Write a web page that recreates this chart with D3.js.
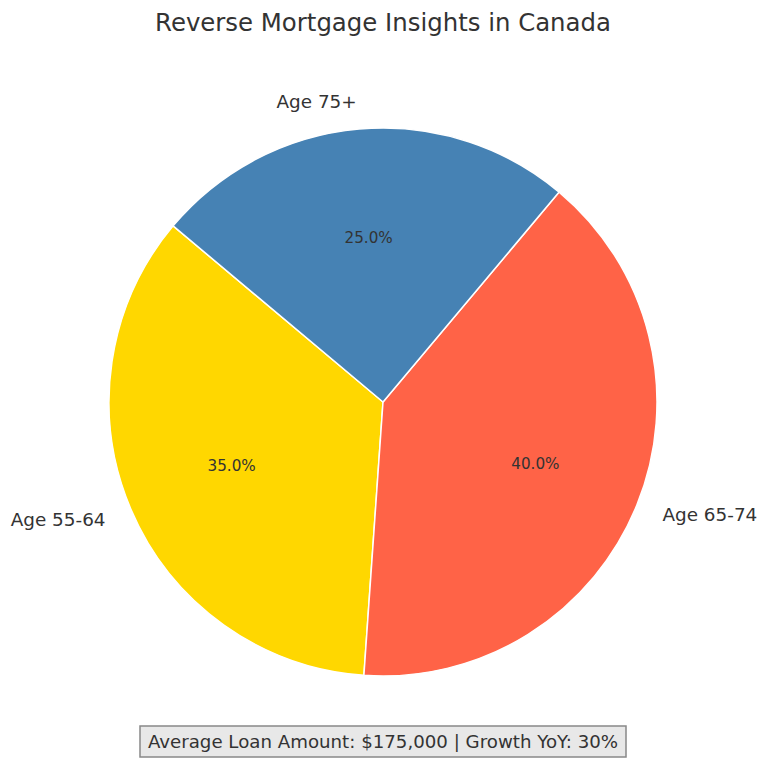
<!DOCTYPE html>
<html><head><meta charset="utf-8">
<script src="https://cdn.jsdelivr.net/npm/d3@7"></script>
<style>body{margin:0;background:#fff;} text{font-family:"DejaVu Sans",sans-serif;}</style>
</head><body>
<svg id="c" width="768" height="762"></svg>
<script>
const categories = ["Age 55-64", "Age 65-74", "Age 75+"];
const values = [35, 40, 25];
const colors = ["#FFD700", "#FF6347", "#4682B4"];
const title = "Reverse Mortgage Insights in Canada";
const note = "Average Loan Amount: $175,000 | Growth YoY: 30%";

const svg = d3.select("#c");
const cx = 383, cy = 402, r = 274;
const startMath = 140; // degrees, counterclockwise from 3 o'clock
const toD3 = deg => (90 - deg) * Math.PI / 180;

const pie = d3.pie().sort(null).value(d => d)
  .startAngle(toD3(startMath)).endAngle(toD3(startMath + 360));
const arcs = pie(values);
const arc = d3.arc().innerRadius(0).outerRadius(r);
const g = svg.append("g").attr("transform", `translate(${cx},${cy})`);

g.selectAll("path").data(arcs).join("path")
  .attr("d", arc).attr("fill", (d, i) => colors[i])
  .attr("stroke", "#fff").attr("stroke-width", 1.5).attr("stroke-linejoin", "round");

arcs.forEach((d, i) => {
  const mid = (d.startAngle + d.endAngle) / 2;
  const x = Math.sin(mid), y = -Math.cos(mid);
  g.append("text").attr("x", x * r * 1.1).attr("y", y * r * 1.1)
    .attr("text-anchor", x > 0 ? "start" : "end").attr("dominant-baseline", "central")
    .attr("font-size", 18.4).attr("fill", "#333").text(categories[i]);
  g.append("text").attr("x", x * r * 0.6).attr("y", y * r * 0.6)
    .attr("text-anchor", "middle").attr("dominant-baseline", "central")
    .attr("font-size", 15.2).attr("fill", "#333")
    .text(d3.format(".1f")(d.value / d3.sum(values) * 100) + "%");
});

svg.append("text").attr("x", cx).attr("y", 22).attr("text-anchor", "middle")
  .attr("dominant-baseline", "central").attr("font-size", 24.4).attr("fill", "#333").text(title);

const nb = svg.append("g");
nb.append("rect").attr("x", 140).attr("y", 726).attr("width", 486).attr("height", 31)
  .attr("fill", "#e8e8e8").attr("stroke", "#888").attr("stroke-width", 1.5);
nb.append("text").attr("x", 383).attr("y", 741.5).attr("text-anchor", "middle")
  .attr("dominant-baseline", "central").attr("font-size", 18.2).attr("fill", "#333").text(note);
</script>
</body></html>
